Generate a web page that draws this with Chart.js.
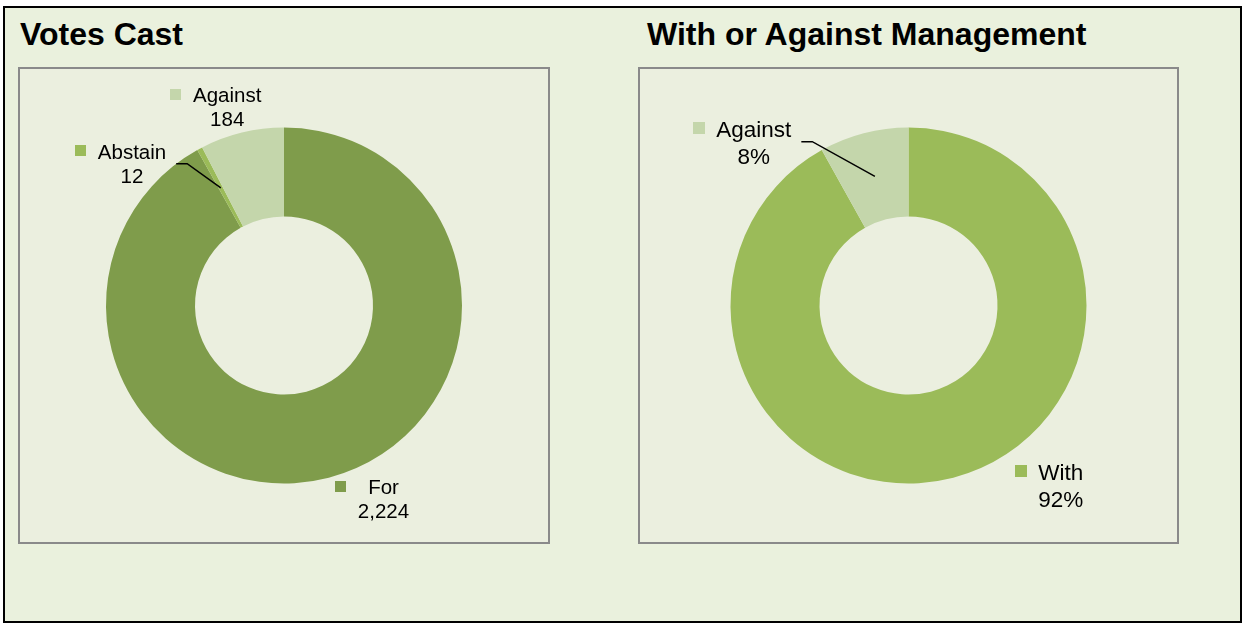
<!DOCTYPE html>
<html><head><meta charset="utf-8">
<script src="https://cdn.jsdelivr.net/npm/chart.js@4.4.1/dist/chart.umd.min.js"></script>
<style>
html,body{margin:0;padding:0;background:#fff;width:1243px;height:624px;overflow:hidden;}
#frame{position:absolute;left:3px;top:6px;width:1239px;height:617px;box-sizing:border-box;border:2px solid #000;background:#EAF1DD;}
.title{position:absolute;font:bold 32px "Liberation Sans",Arial,sans-serif;line-height:32px;color:#000;white-space:nowrap;}
.box{position:absolute;box-sizing:border-box;border:2px solid #8a8a8a;background:#EBEFDF;}
.box canvas{display:block;}
</style></head>
<body>
<div id="frame"></div>
<div class="title" id="t1" style="left:20px;top:18px"></div>
<div class="title" id="t2" style="left:647px;top:18px"></div>
<div class="box" style="left:18px;top:67px;width:532px;height:477px"><canvas id="c1" width="528" height="473"></canvas></div>
<div class="box" style="left:638px;top:67px;width:541px;height:477px"><canvas id="c2" width="537" height="473"></canvas></div>
<script>
// ---- data ----
const votesTitle = 'Votes Cast';
const votesCategories = ['For', 'Abstain', 'Against'];
const votesValues = [2224, 12, 184];
const mgmtTitle = 'With or Against Management';
const mgmtCategories = ['With', 'Against'];
const mgmtValues = [2224, 196];

// ---- styles ----
const votesColors = ['#7F9C4B', '#9BBB59', '#C4D6AB'];
const mgmtColors = ['#9BBB59', '#C4D6AB'];
// label placement: text-centre x, first baseline y, relative to the doughnut centre
const votesLabelPos = [[99.5, 188.5], [-152, -146.8], [-56.8, -203.5]];
const votesLeaders = [false, true, false];
const mgmtLabelPos = [[152.3, 174.5], [-154.7, -168.8]];
const mgmtLeaders = [false, true];

document.getElementById('t1').textContent = votesTitle;
document.getElementById('t2').textContent = mgmtTitle;

function makeLabelPlugin(cfg) {
  return {
    id: 'sliceLabels',
    afterDraw(chart) {
      const ctx = chart.ctx;
      const meta = chart.getDatasetMeta(0);
      const ds = chart.data.datasets[0];
      const total = ds.data.reduce((a, b) => a + b, 0);
      ctx.save();
      ctx.font = cfg.fontSize + 'px "Liberation Sans", Arial, sans-serif';
      meta.data.forEach((arc, i) => {
        const x = arc.x, y = arc.y;
        const v = ds.data[i];
        const second = cfg.percent ? Math.round(v / total * 100) + '%' : v.toLocaleString('en-US');
        const lines = [chart.data.labels[i], second];
        const cx = x + cfg.positions[i][0];
        const by = y + cfg.positions[i][1];
        const w = Math.max(...lines.map(l => ctx.measureText(l).width));
        const left = cx - w / 2;
        ctx.fillStyle = ds.backgroundColor[i];
        ctx.fillRect(Math.round(left - cfg.keyGap - cfg.keySize), Math.round(by - cfg.keyRise - cfg.keySize / 2), cfg.keySize, cfg.keySize);
        ctx.fillStyle = '#000';
        ctx.textAlign = 'center';
        ctx.textBaseline = 'alphabetic';
        lines.forEach((l, k) => ctx.fillText(l, cx, by + k * cfg.lineGap));
        if (cfg.leaders[i]) {
          const mid = (arc.startAngle + arc.endAngle) / 2;
          const r = (arc.innerRadius + arc.outerRadius) / 2;
          const sx = left + w + 10, sy = by + 5;
          ctx.beginPath();
          ctx.moveTo(sx, sy);
          ctx.lineTo(sx + 11, sy);
          ctx.lineTo(x + Math.cos(mid) * r, y + Math.sin(mid) * r);
          ctx.strokeStyle = '#000';
          ctx.lineWidth = 1.5;
          ctx.stroke();
        }
      });
      ctx.restore();
    }
  };
}

function makeDoughnut(id, labels, values, colors, pluginCfg) {
  return new Chart(document.getElementById(id), {
    type: 'doughnut',
    data: { labels: labels, datasets: [{ data: values, backgroundColor: colors, borderWidth: 0, hoverOffset: 0 }] },
    options: {
      responsive: false, animation: false, events: [],
      radius: 178, cutout: '50%',
      plugins: { legend: { display: false }, tooltip: { enabled: false } }
    },
    plugins: [makeLabelPlugin(pluginCfg)]
  });
}

makeDoughnut('c1', votesCategories, votesValues, votesColors,
  { positions: votesLabelPos, leaders: votesLeaders, percent: false, fontSize: 20.5, lineGap: 24, keySize: 11, keyGap: 12, keyRise: 8 });
makeDoughnut('c2', mgmtCategories, mgmtValues, mgmtColors,
  { positions: mgmtLabelPos, leaders: mgmtLeaders, percent: true, fontSize: 22.5, lineGap: 27, keySize: 12, keyGap: 11, keyRise: 9 });
</script>
</body></html>
